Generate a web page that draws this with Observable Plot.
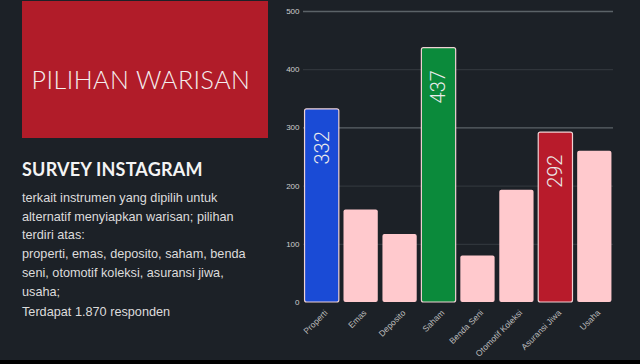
<!DOCTYPE html>
<html>
<head>
<meta charset="utf-8">
<script src="https://cdn.jsdelivr.net/npm/d3@7"></script>
<script src="https://cdn.jsdelivr.net/npm/@observablehq/plot@0.6"></script>
<style>
  html, body { margin: 0; padding: 0; background: #1c2127; }
  #page { position: relative; width: 640px; height: 364px; background: #1c2127; overflow: hidden; font-family: "Liberation Sans", Arial, sans-serif; }
  #titlebox { position: absolute; left: 22px; top: 1px; width: 246px; height: 137px; background: #b11c29; }
  #title { position: absolute; left: -4px; width: 246px; top: 63px; text-align: center; color: #f4eeee; font-family: Lato, sans-serif; font-weight: 300; font-size: 25px; letter-spacing: 0.5px; }
  #sub { position: absolute; left: 22px; top: 158px; color: #f4f4f4; font-family: Lato, sans-serif; font-weight: 700; font-size: 18px; letter-spacing: 0.2px; }
  #body { position: absolute; left: 22px; top: 189px; color: #dcdcdc; font-size: 12.7px; line-height: 18.7px; }
  #resp { position: absolute; left: 22px; top: 305px; color: #dcdcdc; font-size: 12.7px; }
  #chart { position: absolute; left: 280px; top: 0; }
  #bottom { position: absolute; left: 0; top: 360px; width: 640px; height: 4px; background: #000; }
</style>
</head>
<body>
<div id="page">
  <div id="titlebox"><div id="title">PILIHAN WARISAN</div></div>
  <div id="sub">SURVEY INSTAGRAM</div>
  <div id="body">terkait instrumen yang dipilih untuk<br>alternatif menyiapkan warisan; pilihan<br>terdiri atas:<br>properti, emas, deposito, saham, benda<br>seni, otomotif koleksi, asuransi jiwa,<br>usaha;</div>
  <div id="resp">Terdapat 1.870 responden</div>
  <div id="chart"></div>
  <div id="bottom"></div>
</div>
<script>
const categories = ["Properti", "Emas", "Deposito", "Saham", "Benda Seni", "Otomotif Koleksi", "Asuransi Jiwa", "Usaha"];
const values = [332, 159, 117, 437, 80, 193, 292, 260];
const barColors = ["#1a4bd6", "#ffc9cd", "#ffc9cd", "#0b8a3b", "#ffc9cd", "#ffc9cd", "#b81b2b", "#ffc9cd"];
const highlighted = [true, false, false, true, false, false, true, false];
const yTicks = [0, 100, 200, 300, 400, 500];
const brightGrid = [300, 500];
const dimGrid = [100, 200, 400];

const data = categories.map((c, i) => ({ cat: c, value: values[i], color: barColors[i], hi: highlighted[i] }));

const chart = Plot.plot({
  width: 360,
  height: 360,
  marginLeft: 23,
  marginRight: 27,
  marginTop: 11,
  marginBottom: 58,
  style: { background: "transparent", fontFamily: "Liberation Sans, Arial, sans-serif", color: "#c8c8c8" },
  x: { domain: categories, paddingInner: 0.12, paddingOuter: 0.04, round: false, label: null },
  y: { domain: [0, 500], label: null },
  marks: [
    Plot.ruleY(dimGrid, { stroke: "#353b41", strokeWidth: 1 }),
    Plot.ruleY(brightGrid, { stroke: "#5b6368", strokeWidth: 1.3 }),
    Plot.barY(data, { x: "cat", y: "value", fill: "color", rx: 2,
      stroke: d => d.hi ? "#efd2d4" : "none", strokeWidth: 1.2 }),
    Plot.text(data.filter(d => d.hi), { x: "cat", y: "value", text: d => String(d.value),
      rotate: -90, textAnchor: "end", lineAnchor: "middle", dy: 22,
      fill: "#ececec", fontSize: 20, fontWeight: 300, fontFamily: "Roboto, sans-serif" }),
    Plot.axisY({ ticks: yTicks, tickSize: 0, tickPadding: 4, fontSize: 8, fill: "#cfcfcf", label: null }),
    Plot.axisX({ tickRotate: -45, tickSize: 0, tickPadding: 2, dx: 4, dy: 7, fontSize: 8.5, fill: "#bdbdbd", label: null })
  ]
});
document.getElementById("chart").appendChild(chart);
</script>
</body>
</html>
